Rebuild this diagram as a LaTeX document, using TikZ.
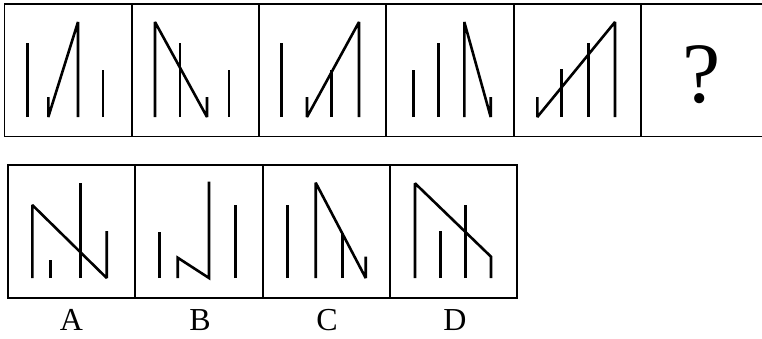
\documentclass[tikz,border=0pt]{standalone}
\usepackage{fontspec}
\setmainfont{Liberation Serif}

\begin{document}
\begin{tikzpicture}[x=1pt,y=-1pt,
    frame/.style={line width=1.9pt},
    stroke/.style={line width=2.6pt,line join=miter,miter limit=2.5}]
       \useasboundingbox (0,0) rectangle (762,338);
       % frames of the two rows
       \foreach \k in {0,...,5}
       {
         \draw[frame] ({4.5+127.3*\k},4) rectangle ++(127.3,132.5);
       }
       \foreach \k in {0,...,3}
       {
         \draw[frame] ({8+127.3*\k},165) rectangle ++(127.3,133);
       }
       % top row
       \foreach \x/\t in {27.3/43,103/70, 180/43,229/70, 281.7/43,331.7/70,
                          413.3/70,438.3/43, 561.7/69,588.3/43}
       {
         \draw[stroke] (\x,117) -- (\x,\t);
       }
       \draw[stroke] (48.3,97) -- (48.3,117) -- (78,22) -- (78,117);
       \draw[stroke] (155,117) -- (155,22) -- (207,117) -- (207,97);
       \draw[stroke] (307,97) -- (307,117) -- (359,22) -- (359,117);
       \draw[stroke] (464.3,117) -- (464.3,22) -- (490.7,117) -- (490.7,97);
       \draw[stroke] (537.3,97) -- (537.3,117) -- (615,22) -- (615,117);
       \node[font=\fontsize{86}{86}\selectfont] (ask) at (702,75) {?};
       % answer row
       \foreach \x/\t in {50.7/260,80.7/183.3, 159.3/231.7,235.7/205,
                          287.3/205,342.3/233, 440.7/231,465.7/205}
       {
         \draw[stroke] (\x,278) -- (\x,\t);
       }
       \draw[stroke] (32.3,278) -- (32.3,205) -- (106.7,278) -- (106.7,231);
       \draw[stroke] (177.7,278) -- (177.7,257.7) -- (209,278) -- (209,181.7);
       \draw[stroke] (315.7,278) -- (315.7,182.7) -- (365.7,278) -- (365.7,256.7);
       \draw[stroke] (415,278) -- (415,183.3) -- (491,256.7) -- (491,278);
       \foreach \x/\l in {71.5/A,200/B,327/C,455/D}
       {
         \node[font=\fontsize{32}{32}\selectfont] (opt\l) at (\x,320) {\l};
       }
     \end{tikzpicture}
\end{document}
